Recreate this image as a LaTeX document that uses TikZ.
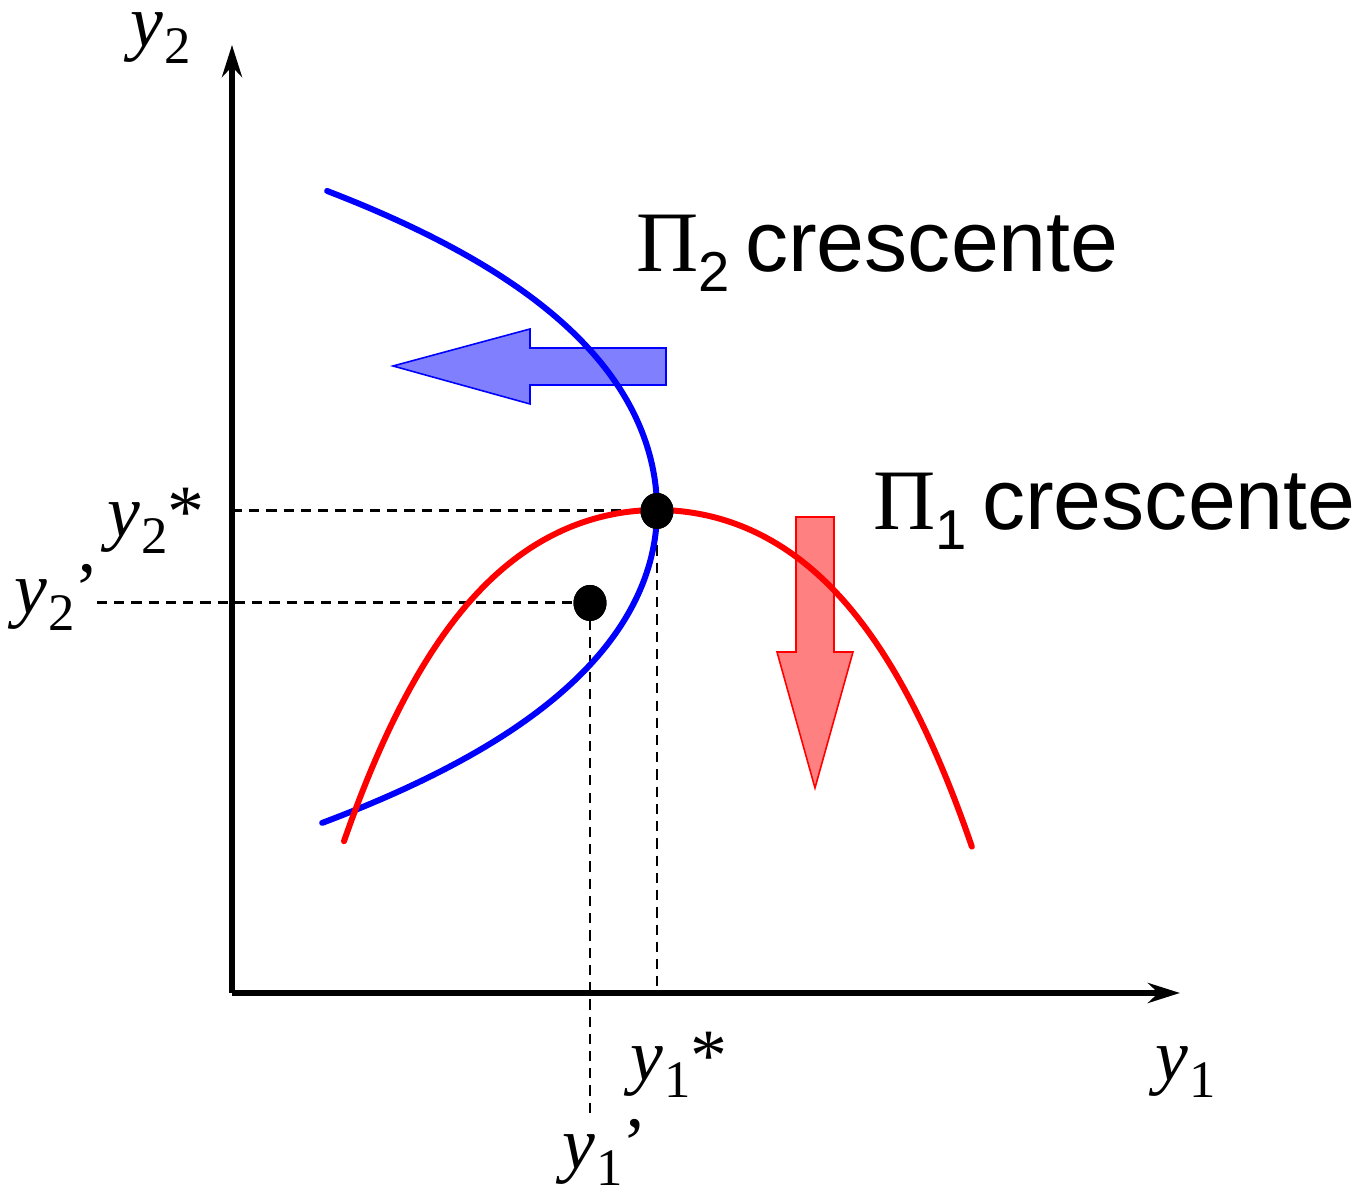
\documentclass[tikz,border=0pt]{standalone}
\usepackage{fontspec}
\setmainfont{Liberation Serif}
\newfontfamily\arialf{Liberation Sans}
\usetikzlibrary{arrows.meta,shapes.geometric}
\newcommand{\ylab}[2]{{\fontsize{21}{21}\selectfont\itshape y}\kern0.3pt\raisebox{-0.17cm}{\fontsize{15}{15}\selectfont #1}{\fontsize{21}{21}\selectfont #2}}
\newcommand{\pilab}[1]{{\fontsize{24.5}{24.5}\selectfont Π}\raisebox{-0.2cm}{\arialf\fontsize{16}{16}\selectfont #1}\kern0.15cm{\arialf\fontsize{24.5}{24.5}\selectfont crescente}}
\tikzset{
  axis/.style={line width=1.6pt,-{Stealth[length=0.32cm,width=0.2cm]}},
  guide/.style={line width=0.85pt,dash pattern=on 2.9pt off 2pt},
  curveA/.style={line width=1.7pt,blue,line cap=round,line join=round},
  curveB/.style={line width=1.7pt,red,line cap=round,line join=round},
  dotnode/.style={ellipse,fill=black,minimum width=0.33cm,minimum height=0.36cm,inner sep=0pt},
  lab/.style={anchor=base west,inner sep=0pt},
  bluearrow/.style={draw=blue,fill={rgb,255:red,128;green,128;blue,255},line width=0.45pt},
  redarrow/.style={draw=red,fill={rgb,255:red,255;green,128;blue,128},line width=0.45pt}
}
\begin{document}
\begin{tikzpicture}[x=0.01cm,y=-0.01cm]
\useasboundingbox (0,0) rectangle (1359,1192);
% coordinates
\coordinate (O) at (232,993);
\coordinate (ytip) at (232,45);
\coordinate (xtip) at (1180,993);
\coordinate (y2start) at (97,603);
\coordinate (y1end) at (588,1115);
% arrows
\draw[bluearrow] (666,348) -- (530,348) -- (530,329) -- (393,366) -- (530,404) -- (530,385) -- (666,385) -- cycle;
\draw[redarrow] (796,517) -- (834,517) -- (834,652) -- (853,652) -- (815,788) -- (777,652) -- (796,652) -- cycle;
% dots positions
\node[dotnode] (E) at (657,511) {};
\node[dotnode] (P) at (590,603) {};
% guides
\draw[guide] (O |- E.center) -- (E.center);
\draw[guide] (E.center) -- (E.center |- O);
\draw[guide] (y2start) -- (P.center);
\draw[guide] (P.center) -- (P.center |- y1end);
% axes
\draw[axis] (O) -- (ytip);
\draw[axis] (O) -- (xtip);
% curves
\draw[curveA] plot[variable=\t,domain=3.19:0,samples=80] ({657-24.07*\t*\t-0.82*\t*\t*\t*\t},{510-100*\t})
  -- plot[variable=\t,domain=0:3.13,samples=80] ({657-25.9*\t*\t-0.8466*\t*\t*\t*\t},{510+100*\t});
\draw[curveB] plot[variable=\t,domain=-3.13:3.15,samples=160] ({657+100*\t},{510+21.77*\t*\t+1.229*\t*\t*\t*\t});
% redraw dots on top
\node[dotnode] at (E) {};
\node[dotnode] at (P) {};
% labels
\node[lab] (ly2) at (130,47) {\ylab{2}{}};
\node[lab] (ly1) at (1155,1081) {\ylab{1}{}};
\node[lab] (ly2s) at (107,537) {\ylab{2}{*}};
\node[lab] (ly2p) at (14,614) {\ylab{2}{’}};
\node[lab] (ly1s) at (630,1081) {\ylab{1}{*}};
\node[lab] (ly1p) at (562,1169) {\ylab{1}{’}};
\node[lab] (pi2) at (636,272) {\pilab{2}};
\node[lab] (pi1) at (873,530) {\pilab{1}};
\end{tikzpicture}
\end{document}
